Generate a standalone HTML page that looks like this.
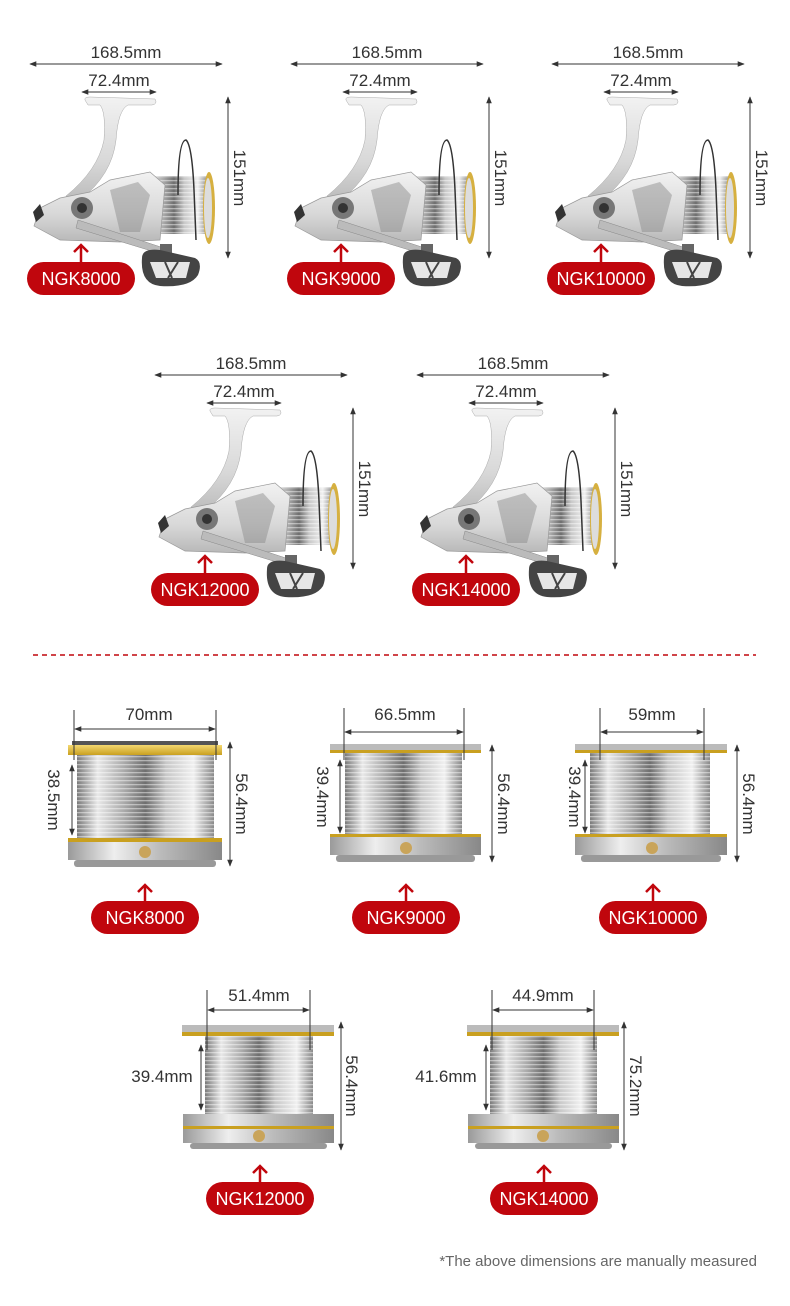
<!DOCTYPE html>
<html><head><meta charset="utf-8"><style>
html,body{margin:0;padding:0;background:#fff;}
svg{display:block;font-family:"Liberation Sans",sans-serif;}
.t{font-size:17px;fill:#333;}
.b{font-size:18px;fill:#fff;text-anchor:middle;}
.l{stroke:#333;stroke-width:1;fill:none;}
</style></head><body>
<svg width="790" height="1306" viewBox="0 0 790 1306" xmlns="http://www.w3.org/2000/svg">
<defs>
<marker id="a" viewBox="0 0 10 10" refX="9" refY="5" markerWidth="7" markerHeight="7" orient="auto-start-reverse"><path d="M0,1 L10,5 L0,9 z" fill="#333"/></marker>
<linearGradient id="s" x1="0" x2="1" y1="0" y2="0">
<stop offset="0" stop-color="#7a7a7a"/><stop offset="0.15" stop-color="#e8e8e8"/><stop offset="0.35" stop-color="#a8a8a8"/><stop offset="0.5" stop-color="#6e6e6e"/><stop offset="0.65" stop-color="#c8c8c8"/><stop offset="0.85" stop-color="#f0f0f0"/><stop offset="1" stop-color="#8a8a8a"/></linearGradient>
<linearGradient id="s2" x1="0" x2="1" y1="0" y2="0">
<stop offset="0" stop-color="#9a9a9a"/><stop offset="0.3" stop-color="#eee"/><stop offset="0.6" stop-color="#bbb"/><stop offset="1" stop-color="#888"/></linearGradient>
<linearGradient id="s3" x1="0" x2="0" y1="0" y2="1">
<stop offset="0" stop-color="#f2f2f2"/><stop offset="0.6" stop-color="#d8d8d8"/><stop offset="1" stop-color="#b8b8b8"/></linearGradient>
<linearGradient id="g" x1="0" x2="0" y1="0" y2="1"><stop offset="0" stop-color="#f4d870"/><stop offset="1" stop-color="#c9a020"/></linearGradient>
<pattern id="st" width="4" height="4" patternUnits="userSpaceOnUse"><rect width="4" height="1.3" fill="#fff" fill-opacity="0.45"/></pattern>
<g id="reel">
 <path d="M85,100 Q84,97 90,97 L155,99 Q158,104 152,105 L128,105 Q118,110 116,140 Q112,175 80,200 L70,205 L66,196 Q98,170 104,140 Q106,112 100,105 L88,105 z" fill="url(#s3)" stroke="#aaa" stroke-width="0.5"/>
 <rect x="140" y="176" width="68" height="58" fill="url(#s)"/>
 <rect x="140" y="176" width="68" height="58" fill="url(#st)"/>
 <ellipse cx="209" cy="208" rx="6" ry="36" fill="#d6b040"/>
 <ellipse cx="208" cy="208" rx="4" ry="30" fill="#ddd"/>
 <path d="M178,195 Q178,140 186,140 Q192,145 194,190 L196,240" stroke="#333" stroke-width="1.5" fill="none"/>
 <path d="M40,208 L60,198 L90,192 L110,180 L150,172 L165,185 L160,240 L120,242 L60,240 L34,226 z" fill="url(#s3)" stroke="#999" stroke-width="0.7"/>
 <path d="M33,212 L40,204 L44,215 L36,222 z" fill="#333"/>
 <circle cx="82" cy="208" r="11" fill="#777"/><circle cx="82" cy="208" r="5" fill="#333"/>
 <path d="M110,190 L138,182 L150,195 L140,232 L120,232 z" fill="#888" opacity="0.45"/>
 <path d="M78,220 L170,250 L168,256 L76,228 z" fill="#bbb" stroke="#888" stroke-width="0.5"/>
 <rect x="160" y="244" width="12" height="14" fill="#666"/>
 <path d="M142,258 Q142,248 160,250 L195,258 Q203,262 198,275 Q190,288 160,286 Q140,284 142,258 z" fill="#444"/>
 <path d="M150,262 L190,262 L186,278 L156,278 z" fill="#e6e6e6"/>
 <path d="M165,262 L172,278 M178,262 L168,278" stroke="#444" stroke-width="2"/>
</g>
<g id="badge"><rect x="0" y="0" width="108" height="33" rx="16.5" fill="#c0060d"/></g>
</defs>

<g transform="translate(0,0)">
<line x1="30" y1="64" x2="222" y2="64" class="l" marker-start="url(#a)" marker-end="url(#a)"/>
<text x="126" y="58" class="t" text-anchor="middle">168.5mm</text>
<line x1="82" y1="92" x2="156" y2="92" class="l" marker-start="url(#a)" marker-end="url(#a)"/>
<text x="119" y="86" class="t" text-anchor="middle">72.4mm</text>
<line x1="228" y1="97" x2="228" y2="258" class="l" marker-start="url(#a)" marker-end="url(#a)"/>
<text transform="translate(234,178) rotate(90)" class="t" text-anchor="middle">151mm</text>
<use href="#reel"/>
<line x1="81" y1="246" x2="81" y2="262" stroke="#c0060d" stroke-width="2.5"/><path d="M74,252 L81,245 L88,252" stroke="#c0060d" stroke-width="2.5" fill="none"/>
<use href="#badge" x="27" y="262"/><text x="81" y="285" class="b">NGK8000</text>
</g>
<g transform="translate(261,0)">
<line x1="30" y1="64" x2="222" y2="64" class="l" marker-start="url(#a)" marker-end="url(#a)"/>
<text x="126" y="58" class="t" text-anchor="middle">168.5mm</text>
<line x1="82" y1="92" x2="156" y2="92" class="l" marker-start="url(#a)" marker-end="url(#a)"/>
<text x="119" y="86" class="t" text-anchor="middle">72.4mm</text>
<line x1="228" y1="97" x2="228" y2="258" class="l" marker-start="url(#a)" marker-end="url(#a)"/>
<text transform="translate(234,178) rotate(90)" class="t" text-anchor="middle">151mm</text>
<use href="#reel"/>
<line x1="80" y1="246" x2="80" y2="262" stroke="#c0060d" stroke-width="2.5"/><path d="M73,252 L80,245 L87,252" stroke="#c0060d" stroke-width="2.5" fill="none"/>
<use href="#badge" x="26" y="262"/><text x="80" y="285" class="b">NGK9000</text>
</g>
<g transform="translate(522,0)">
<line x1="30" y1="64" x2="222" y2="64" class="l" marker-start="url(#a)" marker-end="url(#a)"/>
<text x="126" y="58" class="t" text-anchor="middle">168.5mm</text>
<line x1="82" y1="92" x2="156" y2="92" class="l" marker-start="url(#a)" marker-end="url(#a)"/>
<text x="119" y="86" class="t" text-anchor="middle">72.4mm</text>
<line x1="228" y1="97" x2="228" y2="258" class="l" marker-start="url(#a)" marker-end="url(#a)"/>
<text transform="translate(234,178) rotate(90)" class="t" text-anchor="middle">151mm</text>
<use href="#reel"/>
<line x1="79" y1="246" x2="79" y2="262" stroke="#c0060d" stroke-width="2.5"/><path d="M72,252 L79,245 L86,252" stroke="#c0060d" stroke-width="2.5" fill="none"/>
<use href="#badge" x="25" y="262"/><text x="79" y="285" class="b">NGK10000</text>
</g>
<g transform="translate(125,311)">
<line x1="30" y1="64" x2="222" y2="64" class="l" marker-start="url(#a)" marker-end="url(#a)"/>
<text x="126" y="58" class="t" text-anchor="middle">168.5mm</text>
<line x1="82" y1="92" x2="156" y2="92" class="l" marker-start="url(#a)" marker-end="url(#a)"/>
<text x="119" y="86" class="t" text-anchor="middle">72.4mm</text>
<line x1="228" y1="97" x2="228" y2="258" class="l" marker-start="url(#a)" marker-end="url(#a)"/>
<text transform="translate(234,178) rotate(90)" class="t" text-anchor="middle">151mm</text>
<use href="#reel"/>
<line x1="80" y1="246" x2="80" y2="262" stroke="#c0060d" stroke-width="2.5"/><path d="M73,252 L80,245 L87,252" stroke="#c0060d" stroke-width="2.5" fill="none"/>
<use href="#badge" x="26" y="262"/><text x="80" y="285" class="b">NGK12000</text>
</g>
<g transform="translate(387,311)">
<line x1="30" y1="64" x2="222" y2="64" class="l" marker-start="url(#a)" marker-end="url(#a)"/>
<text x="126" y="58" class="t" text-anchor="middle">168.5mm</text>
<line x1="82" y1="92" x2="156" y2="92" class="l" marker-start="url(#a)" marker-end="url(#a)"/>
<text x="119" y="86" class="t" text-anchor="middle">72.4mm</text>
<line x1="228" y1="97" x2="228" y2="258" class="l" marker-start="url(#a)" marker-end="url(#a)"/>
<text transform="translate(234,178) rotate(90)" class="t" text-anchor="middle">151mm</text>
<use href="#reel"/>
<line x1="79" y1="246" x2="79" y2="262" stroke="#c0060d" stroke-width="2.5"/><path d="M72,252 L79,245 L86,252" stroke="#c0060d" stroke-width="2.5" fill="none"/>
<use href="#badge" x="25" y="262"/><text x="79" y="285" class="b">NGK14000</text>
</g>

<line x1="33" y1="655" x2="756" y2="655" stroke="#c0060d" stroke-width="1.5" stroke-dasharray="5,4"/>

<g>
<rect x="77" y="752" width="137" height="88" fill="url(#s)"/><rect x="77" y="752" width="137" height="88" fill="url(#st)"/>
<rect x="72" y="741" width="146" height="5" fill="#555"/>
<rect x="68" y="745" width="154" height="10" fill="url(#g)"/>
<rect x="68" y="838" width="154" height="4" fill="#c9a020"/>
<rect x="68" y="842" width="154" height="18" fill="url(#s2)"/>
<rect x="74" y="860" width="142" height="7" rx="3" fill="#999"/>
<circle cx="145" cy="852" r="6" fill="#c9a45a"/>
<line x1="74" y1="710" x2="74" y2="760" class="l"/><line x1="216" y1="710" x2="216" y2="760" class="l"/>
<line x1="75" y1="729" x2="215" y2="729" class="l" marker-start="url(#a)" marker-end="url(#a)"/>
<text x="149" y="720" class="t" text-anchor="middle">70mm</text>
<line x1="72" y1="765" x2="72" y2="835" class="l" marker-start="url(#a)" marker-end="url(#a)"/>
<text transform="translate(48,800) rotate(90)" class="t" text-anchor="middle">38.5mm</text>
<line x1="230" y1="742" x2="230" y2="866" class="l" marker-start="url(#a)" marker-end="url(#a)"/>
<text transform="translate(236,804) rotate(90)" class="t" text-anchor="middle">56.4mm</text>
<line x1="145" y1="886" x2="145" y2="901" stroke="#c0060d" stroke-width="2.5"/><path d="M138,892 L145,885 L152,892" stroke="#c0060d" stroke-width="2.5" fill="none"/>
<use href="#badge" x="91" y="901"/><text x="145" y="924" class="b">NGK8000</text>
</g>
<g>
<rect x="345" y="752" width="117" height="84" fill="url(#s)"/><rect x="345" y="752" width="117" height="84" fill="url(#st)"/>
<rect x="330" y="744" width="151" height="6" fill="#bbb"/><rect x="330" y="750" width="151" height="3" fill="#c9a020"/>
<rect x="330" y="834" width="151" height="3" fill="#c9a020"/>
<rect x="330" y="837" width="151" height="18" fill="url(#s2)"/>
<rect x="336" y="855" width="139" height="7" rx="3" fill="#999"/>
<circle cx="406" cy="848" r="6" fill="#c9a45a"/>
<line x1="344" y1="708" x2="344" y2="760" class="l"/><line x1="464" y1="708" x2="464" y2="760" class="l"/>
<line x1="345" y1="732" x2="463" y2="732" class="l" marker-start="url(#a)" marker-end="url(#a)"/>
<text x="405" y="720" class="t" text-anchor="middle">66.5mm</text>
<line x1="340" y1="760" x2="340" y2="833" class="l" marker-start="url(#a)" marker-end="url(#a)"/>
<text transform="translate(317,797) rotate(90)" class="t" text-anchor="middle">39.4mm</text>
<line x1="492" y1="745" x2="492" y2="862" class="l" marker-start="url(#a)" marker-end="url(#a)"/>
<text transform="translate(498,804) rotate(90)" class="t" text-anchor="middle">56.4mm</text>
<line x1="406" y1="886" x2="406" y2="901" stroke="#c0060d" stroke-width="2.5"/><path d="M399,892 L406,885 L413,892" stroke="#c0060d" stroke-width="2.5" fill="none"/>
<use href="#badge" x="352" y="901"/><text x="406" y="924" class="b">NGK9000</text>
</g>
<g>
<rect x="590" y="752" width="120" height="84" fill="url(#s)"/><rect x="590" y="752" width="120" height="84" fill="url(#st)"/>
<rect x="575" y="744" width="152" height="6" fill="#bbb"/><rect x="575" y="750" width="152" height="3" fill="#c9a020"/>
<rect x="575" y="834" width="152" height="3" fill="#c9a020"/>
<rect x="575" y="837" width="152" height="18" fill="url(#s2)"/>
<rect x="581" y="855" width="140" height="7" rx="3" fill="#999"/>
<circle cx="652" cy="848" r="6" fill="#c9a45a"/>
<line x1="600" y1="708" x2="600" y2="760" class="l"/><line x1="704" y1="708" x2="704" y2="760" class="l"/>
<line x1="601" y1="732" x2="703" y2="732" class="l" marker-start="url(#a)" marker-end="url(#a)"/>
<text x="652" y="720" class="t" text-anchor="middle">59mm</text>
<line x1="585" y1="760" x2="585" y2="833" class="l" marker-start="url(#a)" marker-end="url(#a)"/>
<text transform="translate(569,797) rotate(90)" class="t" text-anchor="middle">39.4mm</text>
<line x1="737" y1="745" x2="737" y2="862" class="l" marker-start="url(#a)" marker-end="url(#a)"/>
<text transform="translate(743,804) rotate(90)" class="t" text-anchor="middle">56.4mm</text>
<line x1="653" y1="886" x2="653" y2="901" stroke="#c0060d" stroke-width="2.5"/><path d="M646,892 L653,885 L660,892" stroke="#c0060d" stroke-width="2.5" fill="none"/>
<use href="#badge" x="599" y="901"/><text x="653" y="924" class="b">NGK10000</text>
</g>
<g>
<rect x="205" y="1035" width="108" height="82" fill="url(#s)"/><rect x="205" y="1035" width="108" height="82" fill="url(#st)"/>
<rect x="182" y="1025" width="152" height="7" fill="#bbb"/><rect x="182" y="1032" width="152" height="4" fill="#c9a020"/>
<rect x="183" y="1114" width="151" height="12" fill="url(#s2)"/>
<rect x="183" y="1126" width="151" height="3" fill="#c9a020"/>
<rect x="183" y="1129" width="151" height="14" fill="url(#s2)"/>
<rect x="190" y="1143" width="137" height="6" rx="3" fill="#999"/>
<circle cx="259" cy="1136" r="6" fill="#c9a45a"/>
<line x1="207" y1="990" x2="207" y2="1050" class="l"/><line x1="310" y1="990" x2="310" y2="1050" class="l"/>
<line x1="208" y1="1010" x2="309" y2="1010" class="l" marker-start="url(#a)" marker-end="url(#a)"/>
<text x="259" y="1001" class="t" text-anchor="middle">51.4mm</text>
<line x1="201" y1="1045" x2="201" y2="1110" class="l" marker-start="url(#a)" marker-end="url(#a)"/>
<text x="162" y="1082" class="t" text-anchor="middle">39.4mm</text>
<line x1="341" y1="1022" x2="341" y2="1150" class="l" marker-start="url(#a)" marker-end="url(#a)"/>
<text transform="translate(346,1086) rotate(90)" class="t" text-anchor="middle">56.4mm</text>
<line x1="260" y1="1167" x2="260" y2="1182" stroke="#c0060d" stroke-width="2.5"/><path d="M253,1173 L260,1166 L267,1173" stroke="#c0060d" stroke-width="2.5" fill="none"/>
<use href="#badge" x="206" y="1182"/><text x="260" y="1205" class="b">NGK12000</text>
</g>
<g>
<rect x="490" y="1035" width="107" height="82" fill="url(#s)"/><rect x="490" y="1035" width="107" height="82" fill="url(#st)"/>
<rect x="467" y="1025" width="152" height="7" fill="#bbb"/><rect x="467" y="1032" width="152" height="4" fill="#c9a020"/>
<rect x="468" y="1114" width="151" height="12" fill="url(#s2)"/>
<rect x="468" y="1126" width="151" height="3" fill="#c9a020"/>
<rect x="468" y="1129" width="151" height="14" fill="url(#s2)"/>
<rect x="475" y="1143" width="137" height="6" rx="3" fill="#999"/>
<circle cx="543" cy="1136" r="6" fill="#c9a45a"/>
<line x1="492" y1="990" x2="492" y2="1050" class="l"/><line x1="594" y1="990" x2="594" y2="1050" class="l"/>
<line x1="493" y1="1010" x2="593" y2="1010" class="l" marker-start="url(#a)" marker-end="url(#a)"/>
<text x="543" y="1001" class="t" text-anchor="middle">44.9mm</text>
<line x1="486" y1="1045" x2="486" y2="1110" class="l" marker-start="url(#a)" marker-end="url(#a)"/>
<text x="446" y="1082" class="t" text-anchor="middle">41.6mm</text>
<line x1="624" y1="1022" x2="624" y2="1150" class="l" marker-start="url(#a)" marker-end="url(#a)"/>
<text transform="translate(630,1086) rotate(90)" class="t" text-anchor="middle">75.2mm</text>
<line x1="544" y1="1167" x2="544" y2="1182" stroke="#c0060d" stroke-width="2.5"/><path d="M537,1173 L544,1166 L551,1173" stroke="#c0060d" stroke-width="2.5" fill="none"/>
<use href="#badge" x="490" y="1182"/><text x="544" y="1205" class="b">NGK14000</text>
</g>

<text x="757" y="1266" font-size="15" fill="#666" text-anchor="end">*The above dimensions are manually measured</text>
</svg>
</body></html>
